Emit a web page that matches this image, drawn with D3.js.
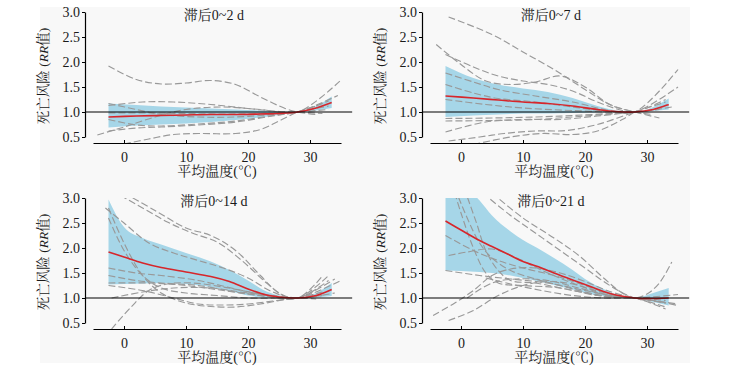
<!doctype html>
<html>
<head>
<meta charset="utf-8">
<script src="https://cdn.jsdelivr.net/npm/d3@7/dist/d3.min.js"></script>
<style>
  body { margin: 0; background: #fff; }
  svg { display: block; font-family: "Liberation Serif", "Noto Serif CJK SC", "Noto Sans CJK SC", serif; }
  .city { fill: none; stroke: #999; stroke-width: 1.15; stroke-dasharray: 7,3; }
  .pooled { fill: none; stroke: #d7262b; stroke-width: 1.6; }
  .band { fill: #a6d6e8; stroke: none; }
  .ref { stroke: #000; stroke-width: 1.2; }
  .axis path, .axis line { stroke: #000; }
  .axis text { font-size: 14px; fill: #1a1a1a; font-family: "Liberation Serif", serif; }
</style>
</head>
<body>
<svg width="731" height="371"></svg>
<script>
// tick values and titles
var xTicks = [0, 10, 20, 30];
var yTicks = [0.5, 1.0, 1.5, 2.0, 2.5, 3.0];
var titles = ["滞后0~2 d", "滞后0~7 d", "滞后0~14 d", "滞后0~21 d"];

// pooled curve + 95% CI band, [temp, RR] and [temp, lo, hi]
var pooled02 = [[-2.5,0.9],[2,0.92],[6,0.93],[10,0.94],[14,0.95],[18,0.95],[22,0.96],[25,0.97],[28,1.0],[31,1.08],[33.5,1.19]];
var band02 = [[-2.5,0.69,1.17],[2,0.73,1.14],[6,0.75,1.11],[10,0.77,1.09],[14,0.8,1.07],[18,0.84,1.05],[22,0.89,1.03],[25,0.94,1.01],[28,1.0,1.0],[31,1.03,1.12],[33.5,1.08,1.31]];
var pooled07 = [[-2.5,1.32],[2,1.28],[6,1.24],[10,1.2],[14,1.17],[18,1.12],[22,1.05],[25,1.01],[28,1.0],[31,1.05],[33.5,1.15]];
var band07 = [[-2.5,0.9,1.92],[2,0.93,1.68],[6,0.95,1.55],[10,0.97,1.47],[14,0.97,1.4],[18,0.98,1.28],[22,0.99,1.12],[25,1.0,1.03],[28,1.0,1.0],[31,1.02,1.1],[33.5,1.05,1.27]];
var pooled14 = [[-2.5,1.92],[0,1.82],[3,1.7],[6,1.61],[10,1.52],[14,1.43],[17,1.33],[20,1.18],[23,1.06],[25,1.02],[28,1.0],[31,1.05],[33.5,1.17]];
var band14 = [[-2.5,1.27,2.97],[0,1.28,2.42],[3,1.29,2.2],[6,1.3,2.07],[10,1.28,1.9],[14,1.22,1.73],[17,1.14,1.56],[20,1.05,1.35],[23,1.01,1.13],[25,1.0,1.05],[28,1.0,1.0],[31,1.01,1.1],[33.5,1.04,1.3]];
var pooled21 = [[-2.5,2.54],[0,2.36],[3,2.15],[5,2.03],[8,1.85],[10,1.73],[13,1.6],[15,1.5],[18,1.36],[20,1.27],[23,1.13],[25,1.06],[28,1.0],[31,0.99],[33.5,1.0]];
var band21 = [[-2.5,1.55,3.6],[0,1.54,3.3],[3,1.52,2.95],[5,1.5,2.65],[8,1.45,2.33],[10,1.4,2.16],[13,1.32,1.95],[15,1.26,1.8],[18,1.17,1.56],[20,1.1,1.38],[23,1.04,1.18],[25,1.01,1.07],[28,1.0,1.0],[31,0.92,1.1],[33.5,0.85,1.2]];

// city-specific curves (dashed)
var cities02 = [
  [[-2.5,1.92],[2,1.65],[6,1.56],[10,1.58],[14,1.63],[18,1.55],[22,1.3],[26,1.07],[28,1.0],[31,0.95]],
  [[0,0.36],[4,0.46],[8,0.55],[12,0.57],[18,0.57],[22,0.65],[25,0.82],[28,1.0],[31,1.12]],
  [[-4.3,0.54],[0,0.7],[5,0.9],[10,1.05],[16,1.1],[22,1.05],[28,1.0],[35,1.64]],
  [[-2.5,1.13],[3,1.2],[8,1.2],[14,1.15],[20,1.07],[25,1.01],[28,1.0],[32,0.97]],
  [[-2.5,0.62],[2,0.68],[6,0.7],[12,0.74],[18,0.8],[24,0.92],[28,1.0],[33,1.12]],
  [[-2.5,0.85],[2,0.74],[6,0.72],[12,0.76],[18,0.82],[24,0.93],[28,1.0],[34.5,1.33]],
  [[-2.5,1.17],[2,1.05],[6,0.95],[12,0.9],[18,0.9],[24,0.95],[28,1.0],[33,1.22]],
  [[-2.5,0.98],[4,0.98],[10,0.97],[16,0.96],[22,0.97],[28,1.0],[33,1.05]]
];
var cities07 = [
  [[-2,2.9],[5,2.55],[10,2.2],[15,1.85],[20,1.45],[24,1.15],[28,1.0],[32,0.88]],
  [[-4,2.35],[0,1.95],[4,1.62],[8,1.55],[12,1.6],[16,1.72],[20,1.5],[24,1.15],[28,1.0],[31,0.95]],
  [[-2.5,2.15],[2,1.9],[6,1.72],[10,1.62],[14,1.55],[18,1.42],[22,1.2],[26,1.03],[28,1.0],[33,1.25]],
  [[-2.5,1.78],[2,1.6],[6,1.45],[12,1.32],[18,1.2],[24,1.03],[28,1.0],[35,1.85]],
  [[-2.5,1.55],[2,1.38],[6,1.27],[12,1.2],[18,1.1],[24,1.01],[28,1.0],[35,1.5]],
  [[-2.5,1.25],[4,1.15],[10,1.08],[18,1.03],[28,1.0],[34,1.1]],
  [[-2.5,0.87],[5,0.88],[12,0.9],[18,0.93],[24,0.97],[28,1.0],[32,1.05]],
  [[-2.5,0.82],[5,0.83],[12,0.85],[20,0.92],[28,1.0]],
  [[-2,0.42],[3,0.5],[7,0.57],[12,0.62],[17,0.63],[22,0.75],[28,1.0],[33,1.2]],
  [[2,0.35],[8,0.5],[13,0.57],[18,0.55],[22,0.62],[26,0.85],[28,1.0]],
  [[-2.5,0.6],[4,0.8],[10,0.85],[16,0.85],[22,0.92],[28,1.0]]
];
var cities14 = [
  [[-2,3.15],[3,2.8],[7,2.52],[11,2.3],[15,2.12],[19,1.75],[23,1.3],[26,1.03],[28,1.0],[32,1.05]],
  [[0,3.1],[5,2.75],[10,2.4],[14,2.25],[18,1.95],[22,1.45],[25,1.1],[28,1.0],[33,1.35]],
  [[-3,2.8],[0,2.5],[4,2.1],[8,1.9],[12,1.75],[16,1.6],[20,1.4],[24,1.12],[28,1.0],[32,1.44]],
  [[-2.5,2.8],[0,2.1],[3,1.45],[6,1.1],[10,0.9],[14,0.83],[18,0.82],[22,0.88],[26,0.97],[28,1.0],[32,1.12]],
  [[-2.5,2.6],[0,1.95],[3,1.45],[6,1.2],[10,1.1],[15,1.05],[20,1.0],[28,1.0],[31,0.98]],
  [[-2,0.38],[1,0.8],[4,1.15],[7,1.28],[11,1.3],[16,1.22],[22,1.08],[28,1.0],[34,1.1]],
  [[-2,1.0],[3,1.12],[8,1.2],[14,1.2],[20,1.1],[28,1.0]],
  [[-2.5,1.45],[2,1.35],[6,1.3],[12,1.25],[18,1.12],[24,1.02],[28,1.0],[34,1.38]],
  [[-2.5,1.3],[4,1.3],[10,1.25],[16,1.15],[22,1.05],[28,1.0],[33,1.45]],
  [[-2.5,1.6],[2,1.5],[6,1.45],[12,1.35],[18,1.18],[24,1.03],[28,1.0],[35,1.35]],
  [[-2.5,1.25],[3,1.15],[8,1.0],[12,0.88],[16,0.86],[20,0.88],[24,0.94],[28,1.0],[31,1.05]]
];
var cities21 = [
  [[3.5,3.1],[8,2.65],[12,2.3],[16,1.95],[20,1.6],[24,1.25],[28,1.0],[31,0.95],[35,0.85]],
  [[5,3.1],[10,2.6],[15,2.2],[19,1.85],[23,1.4],[26,1.1],[28,1.0],[30,1.08],[32,1.3],[34,1.72]],
  [[-1,3.2],[1,2.6],[3,2.1],[5,1.8],[8,1.55],[12,1.38],[16,1.25],[20,1.12],[24,1.03],[28,1.0],[33,0.78]],
  [[0.5,3.2],[2.5,2.5],[4,1.95],[6,1.55],[8,1.35],[12,1.3],[18,1.15],[24,1.02],[28,1.0],[35,1.07]],
  [[-1.5,3.3],[0,2.7],[2,2.0],[4,1.5],[6,1.3],[10,1.25],[16,1.2],[22,1.05],[28,1.0],[33,0.9]],
  [[-2.5,2.25],[2,1.95],[6,1.75],[10,1.6],[15,1.45],[20,1.25],[25,1.05],[28,1.0],[33,0.9]],
  [[-2,1.85],[1,1.92],[5,1.98],[9,1.8],[14,1.5],[19,1.25],[24,1.05],[28,1.0],[33,0.82]],
  [[-4.5,0.65],[-1,0.9],[2,1.15],[5,1.45],[8,1.58],[12,1.6],[16,1.5],[20,1.33],[24,1.13],[28,1.0]],
  [[-2,0.55],[2,0.75],[6,1.05],[10,1.25],[14,1.33],[18,1.28],[22,1.14],[26,1.03],[28,1.0],[35,0.88]],
  [[1,1.0],[5,1.3],[9,1.38],[14,1.35],[19,1.2],[24,1.05],[28,1.0]],
  [[-2.5,1.55],[3,1.45],[8,1.38],[14,1.3],[20,1.15],[25,1.03],[28,1.0]],
  [[4,1.4],[8,1.28],[13,1.15],[18,1.05],[23,1.0],[28,1.0],[33,0.95]]
];

var panels = [
  { x0: 85,  top: 12,  title: titles[0], pooled: pooled02, band: band02, cities: cities02 },
  { x0: 422, top: 12,  title: titles[1], pooled: pooled07, band: band07, cities: cities07 },
  { x0: 85,  top: 198, title: titles[2], pooled: pooled14, band: band14, cities: cities14 },
  { x0: 422, top: 198, title: titles[3], pooled: pooled21, band: band21, cities: cities21 }
];

var svg = d3.select("svg");

// light page background
svg.append("rect")
   .attr("x", 40).attr("y", 7)
   .attr("width", 650).attr("height", 356)
   .attr("fill", "#f8f8f8");

panels.forEach(drawPanel);

function drawPanel(p, i) {
  var x = d3.scaleLinear().domain([-5, 35]).range([p.x0 + 8, p.x0 + 256]);
  var y = d3.scaleLinear().domain([0.5, 3]).range([p.top + 125, p.top]);
  var bottom = p.top + 131;
  var g = svg.append("g");

  var clipId = "clip" + i;
  g.append("clipPath").attr("id", clipId)
   .append("rect")
   .attr("x", p.x0).attr("y", y(3))
   .attr("width", x(37) - p.x0).attr("height", bottom - y(3));

  var plot = g.append("g").attr("clip-path", "url(#" + clipId + ")");

  var area = d3.area()
               .x(function(d) { return x(d[0]); })
               .y0(function(d) { return y(d[1]); })
               .y1(function(d) { return y(d[2]); })
               .curve(d3.curveMonotoneX);
  var line = d3.line()
               .x(function(d) { return x(d[0]); })
               .y(function(d) { return y(d[1]); })
               .curve(d3.curveCatmullRom.alpha(0.5));

  plot.append("path").attr("class", "band").attr("d", area(p.band));

  plot.selectAll(".city")
      .data(p.cities)
      .enter().append("path")
      .attr("class", "city")
      .attr("d", line);

  // reference line RR = 1
  g.append("line").attr("class", "ref")
   .attr("x1", p.x0).attr("x2", x(36.8))
   .attr("y1", y(1)).attr("y2", y(1));

  plot.append("path").attr("class", "pooled").attr("d", line(p.pooled));

  // axes
  var xAxis = d3.axisBottom(x).tickValues(xTicks).tickSize(-3).tickSizeOuter(0).tickPadding(9);
  var yAxis = d3.axisLeft(y).tickValues(yTicks).tickSize(3).tickSizeOuter(0).tickPadding(2)
                .tickFormat(d3.format(".1f"));
  g.append("g").attr("class", "axis").attr("transform", "translate(0," + bottom + ")").call(xAxis);
  g.append("g").attr("class", "axis").attr("transform", "translate(" + p.x0 + ",0)").call(yAxis);
  g.selectAll(".axis .domain").attr("stroke-width", 1.2);

  // title
  g.append("text")
   .attr("x", x(14.5)).attr("y", p.top + 8)
   .attr("text-anchor", "middle")
   .attr("font-size", "14px")
   .attr("fill", "#1a1a1a")
   .text(p.title);

  // x label
  g.append("text")
   .attr("x", x(15)).attr("y", bottom + 33)
   .attr("text-anchor", "middle")
   .attr("font-size", "14px")
   .attr("fill", "#1a1a1a")
   .text("平均温度(℃)");

  // y label
  var yl = g.append("text")
            .attr("transform", "translate(" + (p.x0 - 37) + "," + (p.top + 64) + ") rotate(-90)")
            .attr("text-anchor", "middle")
            .attr("font-size", "13.5px")
            .attr("fill", "#1a1a1a");
  yl.append("tspan").text("死亡风险 (");
  yl.append("tspan").attr("font-style", "italic").text("RR");
  yl.append("tspan").text("值)");
}
</script>
</body>
</html>
